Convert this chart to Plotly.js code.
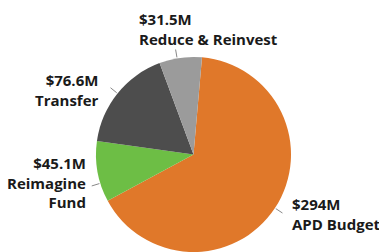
<!DOCTYPE html>
<html>
<head>
<meta charset="utf-8">
<script src="https://cdn.plot.ly/plotly-3.0.1.min.js"></script>
<style>
html,body{margin:0;padding:0;background:#fff;}
#chart{width:379px;height:252px;}
</style>
</head>
<body>
<div id="chart"></div>
<script>
// ---- data ----
const categories = ['APD Budget', 'Reimagine<br>Fund', 'Transfer', 'Reduce & Reinvest'];
const values = [294, 45.1, 76.6, 31.5];
const valueLabels = ['$294M', '$45.1M', '$76.6M', '$31.5M'];
const colors = ['#E0782A', '#6DBE45', '#4D4D4D', '#9B9B9B'];

// ---- layout helpers ----
const W = 379, H = 252;
const cx = 193.5, cy = 154.5, R = 97.5;
const rotation = 5;
const px = x => x / W;
const py = y => 1 - y / H;

// label anchor settings (pixel positions of text blocks)
const labelPos = [
  {x: 290, y: 214, align: 'left'},
  {x: 88, y: 182, align: 'right'},
  {x: 101, y: 90, align: 'right'},
  {x: 137, y: 29, align: 'left'}
];
const leaderAdjust = [0, -7, 0, -2];

const total = values.reduce((a, b) => a + b, 0);
let start = rotation;
const shapes = [];
const annotations = [];
values.forEach((v, i) => {
  const span = v / total * 360;
  const mid = (start + span / 2 + leaderAdjust[i]) * Math.PI / 180;
  start += span;
  const r1 = R + 1, r2 = R + 9;
  shapes.push({
    type: 'line', xref: 'paper', yref: 'paper',
    x0: px(cx + r1 * Math.sin(mid)), y0: py(cy - r1 * Math.cos(mid)),
    x1: px(cx + r2 * Math.sin(mid)), y1: py(cy - r2 * Math.cos(mid)),
    line: {color: '#888888', width: 1}
  });
  const lp = labelPos[i];
  annotations.push({
    xref: 'paper', yref: 'paper',
    x: px(lp.x), y: py(lp.y),
    xanchor: lp.align, yanchor: 'middle', align: lp.align,
    showarrow: false,
    text: '<b>' + valueLabels[i] + '<br>' + categories[i] + '</b>',
    font: {family: 'Open Sans, sans-serif', size: 15, color: '#1a1a1a'}
  });
});

const data = [{
  type: 'pie',
  labels: categories,
  values: values,
  sort: false,
  direction: 'clockwise',
  rotation: rotation,
  textinfo: 'none',
  hoverinfo: 'none',
  marker: {colors: colors, line: {width: 0}},
  domain: {x: [px(cx - R), px(cx + R)], y: [py(cy + R), py(cy - R)]},
  showlegend: false
}];

const layout = {
  width: W, height: H,
  margin: {l: 0, r: 0, t: 0, b: 0},
  paper_bgcolor: '#ffffff',
  showlegend: false,
  shapes: shapes,
  annotations: annotations
};

Plotly.newPlot('chart', data, layout, {staticPlot: true, displayModeBar: false});
</script>
</body>
</html>
